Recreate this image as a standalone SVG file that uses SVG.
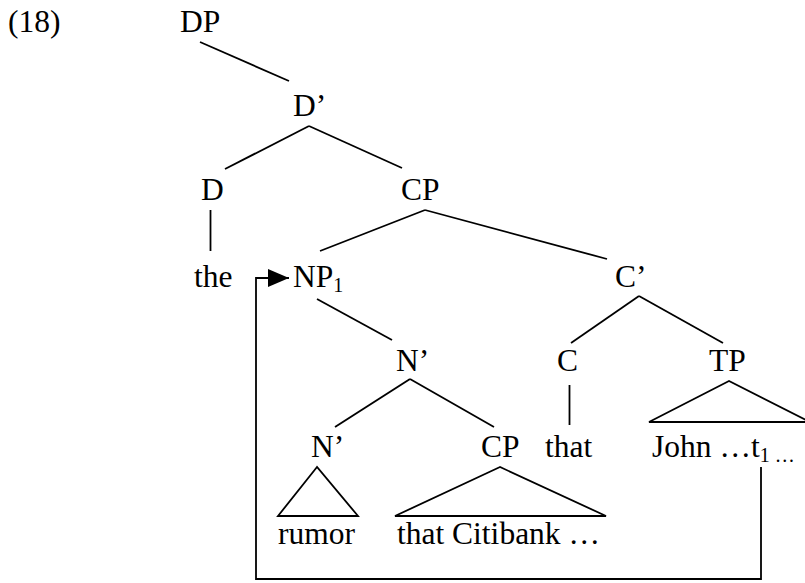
<svg xmlns="http://www.w3.org/2000/svg" width="805" height="583" viewBox="0 0 805 583">
<style>
text{font-family:"Liberation Serif","Times New Roman",serif;font-size:31.5px;fill:#000}
.sub{font-size:20px}
.e{stroke:#000;stroke-width:1.8;fill:none}
</style>
<defs>
<marker id="ah" viewBox="0 0 21 18" refX="21" refY="9" markerWidth="21" markerHeight="18" markerUnits="userSpaceOnUse" orient="auto">
<path d="M0,0 L21,9 L0,18 Z" fill="#000"/>
</marker>
</defs>
<rect width="805" height="583" fill="#fff"/>
<text x="8" y="32">(18)</text>
<g id="n-DP"><text x="180" y="32">DP</text></g>
<g id="n-Dbar"><text x="293" y="116">D’</text></g>
<g id="n-D"><text x="201" y="200">D</text></g>
<g id="n-CP"><text x="401" y="200">CP</text></g>
<g id="n-the"><text x="194" y="287">the</text></g>
<g id="n-NP1"><text x="293" y="287">NP<tspan class="sub" dy="5">1</tspan></text></g>
<g id="n-Cbar"><text x="615" y="287">C’</text></g>
<g id="n-Nbar"><text x="396" y="371">N’</text></g>
<g id="n-C"><text x="557" y="371">C</text></g>
<g id="n-TP"><text x="709" y="371">TP</text></g>
<g id="n-Nbar2"><text x="311" y="457">N’</text></g>
<g id="n-CP2"><text x="481" y="457">CP</text></g>
<g id="n-that"><text x="545" y="457">that</text></g>
<g id="n-John"><text x="652" y="457">John …t<tspan class="sub" dy="5">1 …</tspan></text></g>
<g id="n-rumor"><text x="278" y="544">rumor</text></g>
<g id="n-citibank"><text x="397" y="544">that Citibank …</text></g>
<g id="connectors" class="e">
<line x1="200" y1="42" x2="289" y2="81"/>
<line x1="309" y1="126" x2="225" y2="169"/>
<line x1="309" y1="126" x2="402" y2="168"/>
<line x1="210.5" y1="210" x2="210.5" y2="251"/>
<line x1="425" y1="210" x2="320" y2="251"/>
<line x1="425" y1="210" x2="607" y2="259"/>
<line x1="317" y1="299" x2="392" y2="340"/>
<line x1="639" y1="296" x2="571" y2="343"/>
<line x1="639" y1="296" x2="723" y2="343"/>
<line x1="410" y1="379" x2="335" y2="427"/>
<line x1="410" y1="379" x2="494" y2="427"/>
<line x1="569.5" y1="385" x2="569.5" y2="425"/>
<path d="M729,381 L649,422 L810,422 Z"/>
<path d="M317,467 L278,516 L358,516 Z"/>
<path d="M500,467 L395,516 L606,516 Z"/>
<path d="M761,467 L761,579 L256,579 L256,278 L289,278" marker-end="url(#ah)"/>
</g>
</svg>
